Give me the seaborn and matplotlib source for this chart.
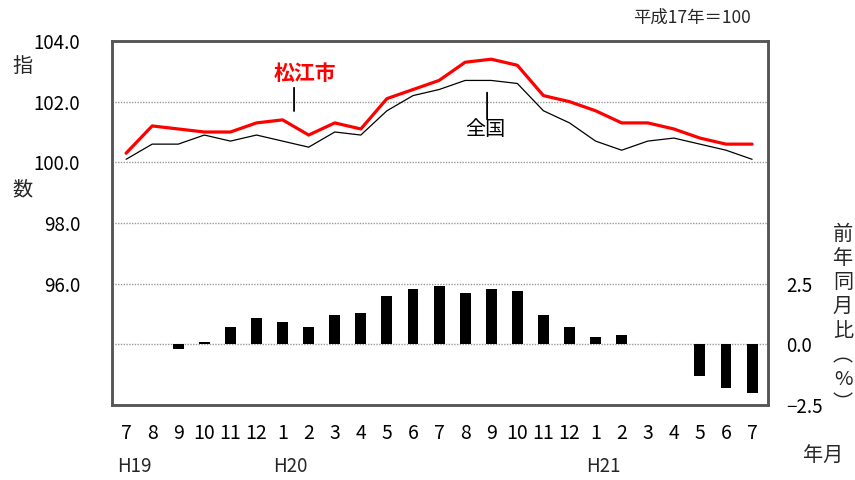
import matplotlib
matplotlib.use("Agg")
import matplotlib.pyplot as plt
import seaborn as sns
import numpy as np

months = ["7", "8", "9", "10", "11", "12", "1", "2", "3", "4", "5", "6",
          "7", "8", "9", "10", "11", "12", "1", "2", "3", "4", "5", "6", "7"]
matsue = [100.3, 101.2, 101.1, 101.0, 101.0, 101.3, 101.4, 100.9, 101.3, 101.1,
          102.1, 102.4, 102.7, 103.3, 103.4, 103.2, 102.2, 102.0, 101.7, 101.3,
          101.3, 101.1, 100.8, 100.6, 100.6]
zenkoku = [100.1, 100.6, 100.6, 100.9, 100.7, 100.9, 100.7, 100.5, 101.0, 100.9,
           101.7, 102.2, 102.4, 102.7, 102.7, 102.6, 101.7, 101.3, 100.7, 100.4,
           100.7, 100.8, 100.6, 100.4, 100.1]
yoy = [0.0, 0.0, -0.2, 0.1, 0.7, 1.1, 0.9, 0.7, 1.2, 1.3, 2.0, 2.3, 2.4,
       2.1, 2.3, 2.2, 1.2, 0.7, 0.3, 0.4, 0.0, 0.0, -1.3, -1.8, -2.0]
era_labels = ["H19", "H20", "H21"]
era_index = [0, 6, 18]
left_ticks = [96.0, 98.0, 100.0, 102.0, 104.0]
right_ticks = [-2.5, 0.0, 2.5]
right_labels = ["\u22122.5", "0.0", "2.5"]

sns.set_theme(style="white")
FONT = ["Noto Sans CJK JP", "DejaVu Sans"]
plt.rcParams["font.family"] = FONT
plt.rcParams["axes.unicode_minus"] = True

W, H = 855, 480
fig = plt.figure(figsize=(W / 100, H / 100), dpi=100)
ax = fig.add_axes([112 / W, 1 - 405 / H, (768 - 112) / W, (405 - 41) / H])
ax2 = ax.twinx()

idx = np.arange(len(months))

# bars (right axis)
sns.barplot(x=idx, y=yoy, color="black", saturation=1, width=0.42,
            native_scale=True, ax=ax2, zorder=3, linewidth=0)
ax2.set_ylim(-2.5, 12.5)
ax2.set_yticks(right_ticks)
ax2.set_yticklabels(right_labels)
ax2.tick_params(axis="y", length=0, pad=13, labelsize=13.5, colors="black")
ax2.set_ylabel("")
ax2.grid(False)
ax2.axhline(0, color="#999999", lw=1.0, ls=(0, (1, 1)), zorder=1)

# lines (left axis)
sns.lineplot(x=idx, y=zenkoku, color="black", lw=0.9, ax=ax, zorder=4)
sns.lineplot(x=idx, y=matsue, color="#ff0000", lw=2.3, ax=ax, zorder=5)
ax.set_ylim(92, 104)
ax.set_yticks(left_ticks)
ax.set_yticklabels([f"{v:.1f}" for v in left_ticks])
ax.tick_params(axis="y", length=0, pad=23, labelsize=13.5, colors="black")
ax.set_xlim(-0.54, 24.61)
ax.set_xticks(idx)
ax.set_xticklabels(months)
ax.tick_params(axis="x", length=0, pad=13, labelsize=14, colors="black")
ax.set_xlabel("")
ax.set_ylabel("")
for v in [96, 98, 100, 102]:
    ax.axhline(v, color="#999999", lw=1.0, ls=(0, (1, 1)), zorder=1)

for a in (ax, ax2):
    for s in a.spines.values():
        s.set_color("#555555")
        s.set_linewidth(1.8)

# annotations
ax.annotate("", xy=(6.44, 101.6), xytext=(6.44, 102.55),
            arrowprops=dict(arrowstyle="-", color="black", lw=1.3))
ax.text(6.86, 102.92, "松江市", color="#ff0000", fontsize=15, fontweight="bold",
        ha="center", va="center")
ax.annotate("", xy=(13.84, 101.33), xytext=(13.84, 102.39),
            arrowprops=dict(arrowstyle="-", color="black", lw=1.3))
ax.text(13.77, 101.07, "全国", color="black", fontsize=14.5,
        ha="center", va="center")

# era labels
for lab, i in zip(era_labels, era_index):
    ax.text(i + 0.3, -0.17, lab, transform=ax.get_xaxis_transform(),
            ha="center", va="center", fontsize=13.5)

def px(x, y):
    return x / W, 1 - y / H

fig.text(*px(22, 66), "指", fontsize=14.5, ha="center", va="center")
fig.text(*px(22, 190), "数", fontsize=14.5, ha="center", va="center")
fig.text(*px(692, 18), "平成17年＝100", fontsize=12.5, ha="center", va="center")
fig.text(*px(823, 456), "年月", fontsize=14.5, ha="center", va="center")
vchars = ["前", "年", "同", "月", "比", "︵", "%", "︶"]
for k, ch in enumerate(vchars):
    fig.text(*px(843, 234 + k * 24.3), ch, fontsize=14.5, ha="center", va="center")

fig.savefig("out.png", dpi=100)
